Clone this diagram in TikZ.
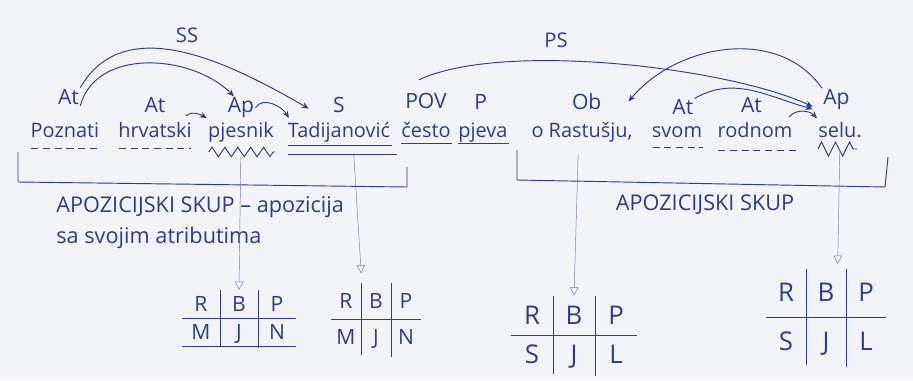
\documentclass[tikz,border=0pt]{standalone}
\usepackage{fontspec}
\setmainfont{Open Sans}
\usepackage{tikz}
\usetikzlibrary{positioning}
\usetikzlibrary{arrows.meta}
\usetikzlibrary{calc}
\usetikzlibrary{matrix}
\usetikzlibrary{decorations.pathmorphing}
\definecolor{ink}{HTML}{2C3A98}
\definecolor{pale}{HTML}{7078B4}
\definecolor{paper}{HTML}{F3F4F8}
\tikzset{word/.style={text=ink,font=\fontsize{17}{20}\selectfont,anchor=base,inner sep=1pt}}
\tikzset{tag/.style={text=ink,font=\fontsize{18}{22}\selectfont,inner sep=1pt}}
\tikzset{note/.style={text=ink,font=\fontsize{18.5}{22}\selectfont,inner sep=1pt}}
\tikzset{link/.style={draw=ink,thick,->}}
\tikzset{dashline/.style={draw=ink,thick,dash pattern=on 6pt off 4pt}}
\tikzset{zigline/.style={draw=ink,thick,decorate,decoration={zigzag,amplitude=4pt,segment length=11pt}}}
\tikzset{bracket/.style={draw=ink,thick,line join=round}}
\tikzset{drop/.style={draw=pale,-{Triangle[open,length=7pt,width=7pt]}}}
\tikzset{grid/.style={matrix of nodes,inner sep=0pt,nodes={text=ink,inner sep=0pt}}}
\tikzset{gridline/.style={draw=ink,thick}}

\begin{document}
\begin{tikzpicture}[x=0.3mm,y=-0.3mm,>={Stealth[length=6pt,width=5pt]}]
        \fill[paper] (0,0) rectangle (913,380);
        \useasboundingbox (0,0) rectangle (913,380);
        % sentence
        \node[word] (w1) at (65,137) {Poznati};
        \node[word] (w2) at (155,137) {hrvatski};
        \node[word] (w3) at (241,137) {pjesnik};
        \node[word] (w4) at (339,137) {Tadijanović};
        \node[word] (w5) at (426,137) {često};
        \node[word] (w6) at (483,137) {pjeva};
        \node[word] (w7) at (582,137) {o Rastušju,};
        \node[word] (w8) at (677,137) {svom};
        \node[word] (w9) at (755,137) {rodnom};
        \node[word] (w10) at (840,137) {selu.};
        % sentence parts
        \node[tag,above=13pt of w1,xshift=3pt] (t1) {At};
        \node[tag,above=5pt of w2] (t2) {At};
        \node[tag,above=1pt of w3] (t3) {Ap};
        \node[tag,above=5pt of w4] (t4) {S};
        \node[tag,above=9pt of w5] (t5) {POV};
        \node[tag,above=9pt of w6,xshift=-2pt] (t6) {P};
        \node[tag,above=8pt of w7,xshift=4pt] (t7) {Ob};
        \node[tag,above=7pt of w8,xshift=5pt] (t8) {At};
        \node[tag,above=5pt of w9,xshift=-3pt] (t9) {At};
        \node[tag,above=8pt of w10,xshift=-3pt] (t10) {Ap};
        \node[tag,font=\LARGE] (ss) at (187,35) {SS};
        \node[tag,font=\LARGE] (ps) at (556,40) {PS};
        % arcs
        \path[link] (t1.north east) to[out=60,in=150] ([xshift=19pt,yshift=10pt]w4.north west);
        \path[link] (t1.south east) to[out=75,in=135] ([xshift=-6pt]t3.north);
        \path[link] ([xshift=-6pt,yshift=4pt]w2.north east) to[out=40,in=150] ([yshift=2pt]w3.north west);
        \path[link] (t3.east) to[out=60,in=120] ([xshift=2pt,yshift=2pt]w4.north west);
        \path[link] ([xshift=-6pt,yshift=10pt]t5.north) to[out=25,in=155,looseness=0.6] ([xshift=-8pt,yshift=-6pt]t10.west);
        \path[link] (t10.north west) to[out=125,in=50] ([xshift=22pt]t7.east);
        \path[link] (t8.north east) to[out=30,in=165] ([xshift=-8pt,yshift=-8pt]t10.west);
        \path[link] ([xshift=-4pt,yshift=3pt]w9.north east) to[out=50,in=135] ([yshift=2pt]w10.north west);
        % underlines
        \path[dashline] ($(w1.base west)+(2,11)$) -- ($(w1.base east)+(-2,11)$);
        \path[dashline] ($(w2.base west)+(2,11)$) -- ($(w2.base east)+(-2,11)$);
        \path[zigline] ($(w3.base west)+(2,15)$) -- ($(w3.base east)+(0,15)$);
        \path[draw=ink,thick] ($(w4.base west)+(2,8)$) -- ($(w4.base east)+(0,8)$);
        \path[draw=ink,thick] ($(w4.base west)+(2,17)$) -- ($(w4.base east)+(5,17)$);
        \path[draw=ink,thick] ($(w5.base west)+(1,6)$) -- ($(w5.base east)+(0,6)$);
        \path[draw=ink,thick] ($(w6.base west)+(1,6)$) -- ($(w6.base east)+(0,6)$);
        \path[dashline] ($(w8.base west)+(2,10)$) -- ($(w8.base east)+(0,10)$);
        \path[dashline] ($(w9.base west)+(2,13)$) -- ($(w9.base east)+(2,13)$);
        \path[zigline,decoration={amplitude=6pt,segment length=12pt}] ($(w10.base west)+(1,12)$) -- ($(w10.base east)+(-6,12)$);
        % brackets
        \path[bracket] (18,152) -- (18,182) -- (407,187) -- (407,167);
        \path[bracket] (517,150) -- (517,180) -- (885,187) -- (888,157);
        \node[note,anchor=west] (n1) at (55,207) {APOZICIJSKI SKUP -- apozicija};
        \node[note,below=6pt of n1.south west,anchor=north west] (n2) {sa svojim atributima};
        \node[note] (n3) at (705,205) {APOZICIJSKI SKUP};
        % tables
        \matrix[grid,nodes={minimum width=11.4mm,minimum height=8.4mm,font=\fontsize{18}{22}\selectfont}] (tab1) at (239,319) {R & B & P\\ M & J & N\\};
        \matrix[grid,nodes={minimum width=9mm,minimum height=10.8mm,font=\fontsize{18}{22}\selectfont}] (tab2) at (376,320) {R & B & P\\ M & J & N\\};
        \matrix[grid,nodes={minimum width=12.6mm,minimum height=11.7mm,font=\fontsize{22}{26}\selectfont}] (tab3) at (574,336) {R & B & P\\ S & J & L\\};
        \matrix[grid,nodes={minimum width=12mm,minimum height=14.4mm,font=\fontsize{22}{26}\selectfont}] (tab4) at (826,318) {R & B & P\\ S & J & L\\};
        \foreach \t in {tab1,tab2,tab3,tab4}{
            \path[gridline] (\t-1-1.south west) -- (\t-1-3.south east);
            \path[gridline] (\t-1-1.north east) -- (\t-2-1.south east);
            \path[gridline] (\t-1-2.north east) -- (\t-2-2.south east);
        }
        \path[gridline] (tab1-2-1.south west) -- (tab1-2-3.south east);
        % to the tables
        \path[drop,shorten <=12pt] (w3.south) -- (tab1-1-2.north);
        \path[drop,shorten <=10pt] ([xshift=12pt]w4.south) -- ([yshift=8pt]tab2-1-1.north east);
        \path[drop,shorten <=10pt] ([xshift=-3pt]w7.south) -- (tab3-1-2.north);
        \path[drop,shorten <=10pt] (w10.south) -- ([xshift=10pt,yshift=4pt]tab4-1-2.north);
\end{tikzpicture}
\end{document}
